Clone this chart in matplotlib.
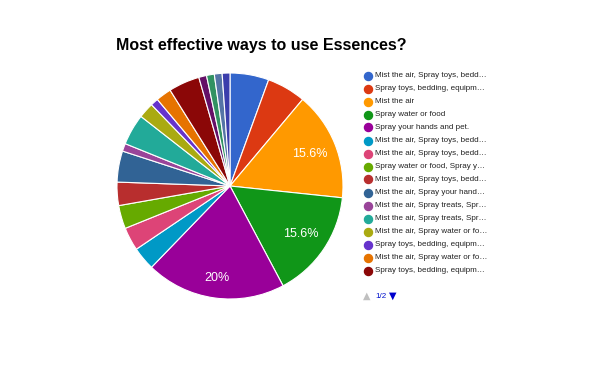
import matplotlib
matplotlib.use("Agg")
import matplotlib.pyplot as plt
from matplotlib.lines import Line2D

plt.rcParams["font.family"] = ["Liberation Sans", "DejaVu Sans"]

# responses per answer (out of 90), in slice order clockwise from 12 o'clock
labels = [
    "Mist the air, Spray toys, bedd…",
    "Spray toys, bedding, equipm…",
    "Mist the air",
    "Spray water or food",
    "Spray your hands and pet.",
    "Mist the air, Spray toys, bedd…",
    "Mist the air, Spray toys, bedd…",
    "Spray water or food, Spray y…",
    "Mist the air, Spray toys, bedd…",
    "Mist the air, Spray your hand…",
    "Mist the air, Spray treats, Spr…",
    "Mist the air, Spray treats, Spr…",
    "Mist the air, Spray water or fo…",
    "Spray toys, bedding, equipm…",
    "Mist the air, Spray water or fo…",
    "Spray toys, bedding, equipm…",
    "Spray treats, Spray toys, bed…",
    "Mist the air, Spray your hand…",
    "Spray water or food, Spray t…",
    "Spray your hands and pet., S…",
]
counts = [5, 5, 14, 14, 18, 3, 3, 3, 3, 4, 1, 4, 2, 1, 2, 4, 1, 1, 1, 1]
colors = [
    "#3366cc", "#dc3912", "#ff9900", "#109618", "#990099", "#0099c6",
    "#dd4477", "#66aa00", "#b82e2e", "#316395", "#994499", "#22aa99",
    "#aaaa11", "#6633cc", "#e67300", "#8b0707", "#651067", "#329262",
    "#5574a6", "#3b3eac",
]
legend_page = 16  # entries shown on page 1 of 2

W, H = 600, 371
fig = plt.figure(figsize=(W / 100, H / 100), dpi=100)

# pie centred at (230, 186) px, radius 113 px
cx, cy, r = 230, 186, 113
ax = fig.add_axes([(cx - r) / W, (H - cy - r) / H, 2 * r / W, 2 * r / H])
wedges, texts, autotexts = ax.pie(
    counts, colors=colors, startangle=90, counterclock=False,
    autopct=lambda p: f"{p:.1f}%".replace(".0%", "%") if p > 10 else "",
    pctdistance=0.76,
    wedgeprops=dict(edgecolor="white", linewidth=0.8),
    textprops=dict(color="white", fontsize=9),
)
# the biggest slice's label sits a bit further out
big = counts.index(max(counts))
x, y = autotexts[big].get_position()
autotexts[big].set_position((x * 1.08, y * 1.08))

ax.set_xlim(-1.0, 1.0)
ax.set_ylim(-1.0, 1.0)
ax.set_aspect("equal")
ax.axis("off")

fig.text(116 / W, 1 - 50 / H, "Most effective ways to use Essences?",
         fontsize=11.5, fontweight="bold", ha="left", va="baseline", color="#000000")

# legend, page 1/2
y0, step = 75.5, 13.0
for i in range(legend_page):
    y = 1 - (y0 + i * step) / H
    fig.add_artist(Line2D([368 / W], [y], marker="o", markersize=5.8,
                          color=colors[i], linestyle="none", transform=fig.transFigure))
    fig.text(375 / W, y, labels[i], fontsize=5.75, color="#222222",
             ha="left", va="center")

yp = 1 - 296 / H
fig.text(363 / W, yp, "▲", fontsize=7, color="#c0c0c0", ha="left", va="center",
         family="DejaVu Sans")
fig.text(375 / W, yp, "1/2", fontsize=5.75, color="#0011cc", ha="left", va="center")
fig.text(389 / W, yp, "▼", fontsize=7, color="#0000cc", ha="left", va="center",
         family="DejaVu Sans")

fig.savefig("out.png", dpi=100, facecolor="white")
